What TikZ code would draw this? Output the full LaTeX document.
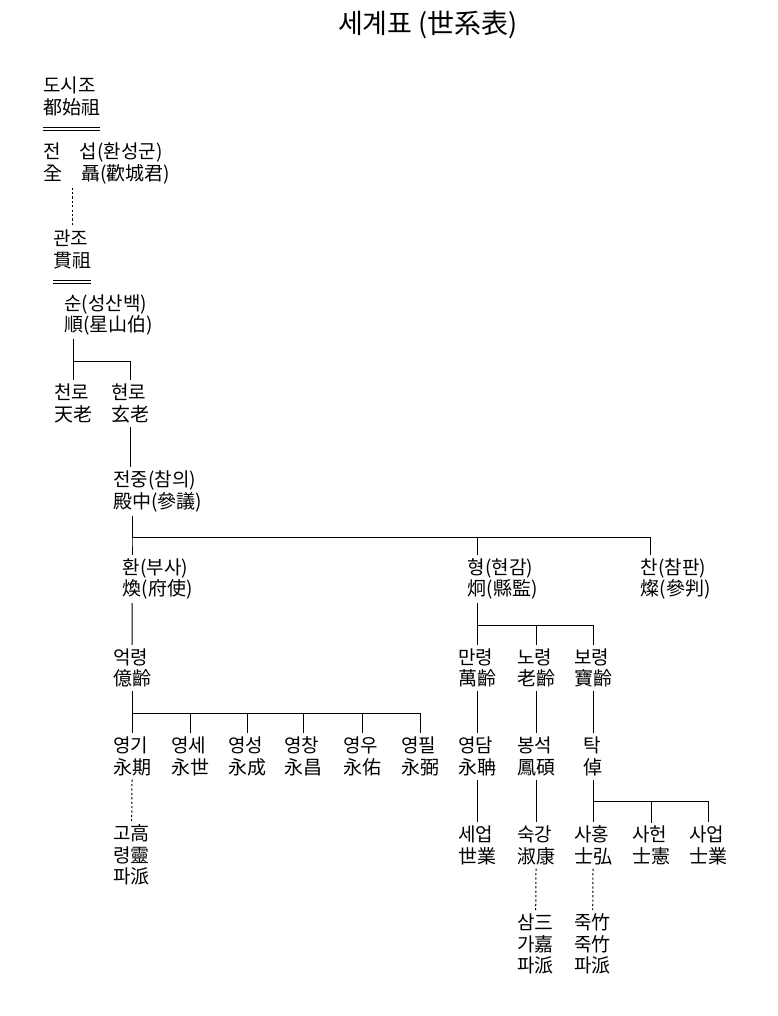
\documentclass[tikz,border=0pt]{standalone}
\usepackage{fontspec}
\setmainfont{Noto Sans CJK KR}
\usepackage{tikz}
\tikzstyle{person} = [anchor=west, align=left, inner xsep=0pt, inner ysep=3.5pt, font=\fontsize{19}{21.5}\selectfont]
\tikzstyle{kin} = [draw=black, line width=1pt]
\tikzstyle{lineage} = [draw=black, line width=1pt, dash pattern=on 2.2pt off 2.2pt]
\tikzstyle{headrule} = [draw=black, double, double distance=2.8pt, line width=0.9pt]

\begin{document}
\begin{tikzpicture}[x=1pt, y=-1pt]
\useasboundingbox (0,0) rectangle (777,1016);
\node (title) at (428,25) [font=\fontsize{27}{30}\selectfont] {세계표 (世系表)};

\node (dosiJo) [person] at (43,96.5) {도시조\\都始祖};
\node (jeonSeop) [person] at (43,163.5) {전　섭(환성군)\\全　聶(歡城君)};
\node (gwanJo) [person] at (53,249.5) {관조\\貫祖};
\node (sun) [person] at (64,315) {순(성산백)\\順(星山伯)};
\node (cheonRo) [person] at (54,403.5) {천로\\天老};
\node (hyeonRo) [person] at (111,403.5) {현로\\玄老};
\node (jeonJung) [person] at (113,491.5) {전중(참의)\\殿中(參議)};
\node (hwan) [person] at (122.5,579) {환(부사)\\煥(府使)};
\node (hyeong) [person] at (467.5,579) {형(현감)\\炯(縣監)};
\node (chan) [person] at (640.5,579) {찬(참판)\\燦(參判)};
\node (eokRyeong) [person] at (113,668) {억령\\億齡};
\node (manRyeong) [person] at (458,668) {만령\\萬齡};
\node (noRyeong) [person] at (517,668) {노령\\老齡};
\node (boRyeong) [person] at (574,668) {보령\\寶齡};
\node (yeongGi) [person] at (113,756.5) {영기\\永期};
\node (yeongSe) [person] at (171,756.5) {영세\\永世};
\node (yeongSeong) [person] at (228,756.5) {영성\\永成};
\node (yeongChang) [person] at (284,756.5) {영창\\永昌};
\node (yeongU) [person] at (343,756.5) {영우\\永佑};
\node (yeongPil) [person] at (401,756.5) {영필\\永弼};
\node (yeongDam) [person] at (458,756.5) {영담\\永聃};
\node (bongSeok) [person] at (517,756.5) {봉석\\鳳碩};
\node (tak) [person] at (583.5,756.5) {탁\\倬};
\node (goRyeong) [person] at (113,855) {고高\\령靈\\파派};
\node (seEop) [person] at (458,845.5) {세업\\世業};
\node (sukGang) [person] at (517,845.5) {숙강\\淑康};
\node (saHong) [person] at (574,845.5) {사홍\\士弘};
\node (saHeon) [person] at (632,845.5) {사헌\\士憲};
\node (saEop) [person] at (689,845.5) {사업\\士業};
\node (samGa) [person] at (517,944) {삼三\\가嘉\\파派};
\node (jukJuk) [person] at (574,944) {죽竹\\죽竹\\파派};

% upper line
\draw [headrule] ([yshift=-9.5pt]dosiJo.south west) -- ([yshift=-9.5pt]dosiJo.south east);
\draw [lineage] (gwanJo.north |- jeonSeop.south) -- (gwanJo.north);
\draw [headrule] ([yshift=-9.5pt]gwanJo.south west) -- ([yshift=-9.5pt]gwanJo.south east);
\draw [kin] (cheonRo.north |- sun.south) -- (cheonRo.north);
\draw [kin] (cheonRo.north |- sun.south) -- ++(0,22) -| (hyeonRo.north);
\draw [kin] (hyeonRo.south) -- (hyeonRo.south |- jeonJung.north);
\foreach \c in {hwan, hyeong, chan}
  \draw [kin] ([xshift=19pt]jeonJung.south west) -- ++(0,22) -| ([xshift=9.5pt]\c.north west);

% hwan's line
\draw [kin] ([xshift=9.5pt]hwan.south west) -- (eokRyeong.north);
\foreach \c in {yeongGi, yeongSe, yeongSeong, yeongChang, yeongU, yeongPil}
  \draw [kin] (eokRyeong.south) -- ++(0,22) -| (\c.north);
\draw [lineage] (yeongGi) -- (goRyeong);

% hyeong's line
\foreach \c in {manRyeong, noRyeong, boRyeong}
  \draw [kin] ([xshift=9.5pt]hyeong.south west) -- ++(0,22) -| (\c.north);
\draw [kin] (manRyeong) -- (yeongDam);
\draw [kin] (noRyeong) -- (bongSeok);
\draw [kin] (boRyeong) -- (tak);
\draw [kin] (yeongDam) -- (seEop);
\draw [kin] (bongSeok) -- (sukGang);
\foreach \c in {saHong, saHeon, saEop}
  \draw [kin] (tak.south) -- ++(0,22) -| (\c.north);
\draw [lineage] (sukGang) -- (samGa);
\draw [lineage] (saHong) -- (jukJuk);
\end{tikzpicture}
\end{document}
